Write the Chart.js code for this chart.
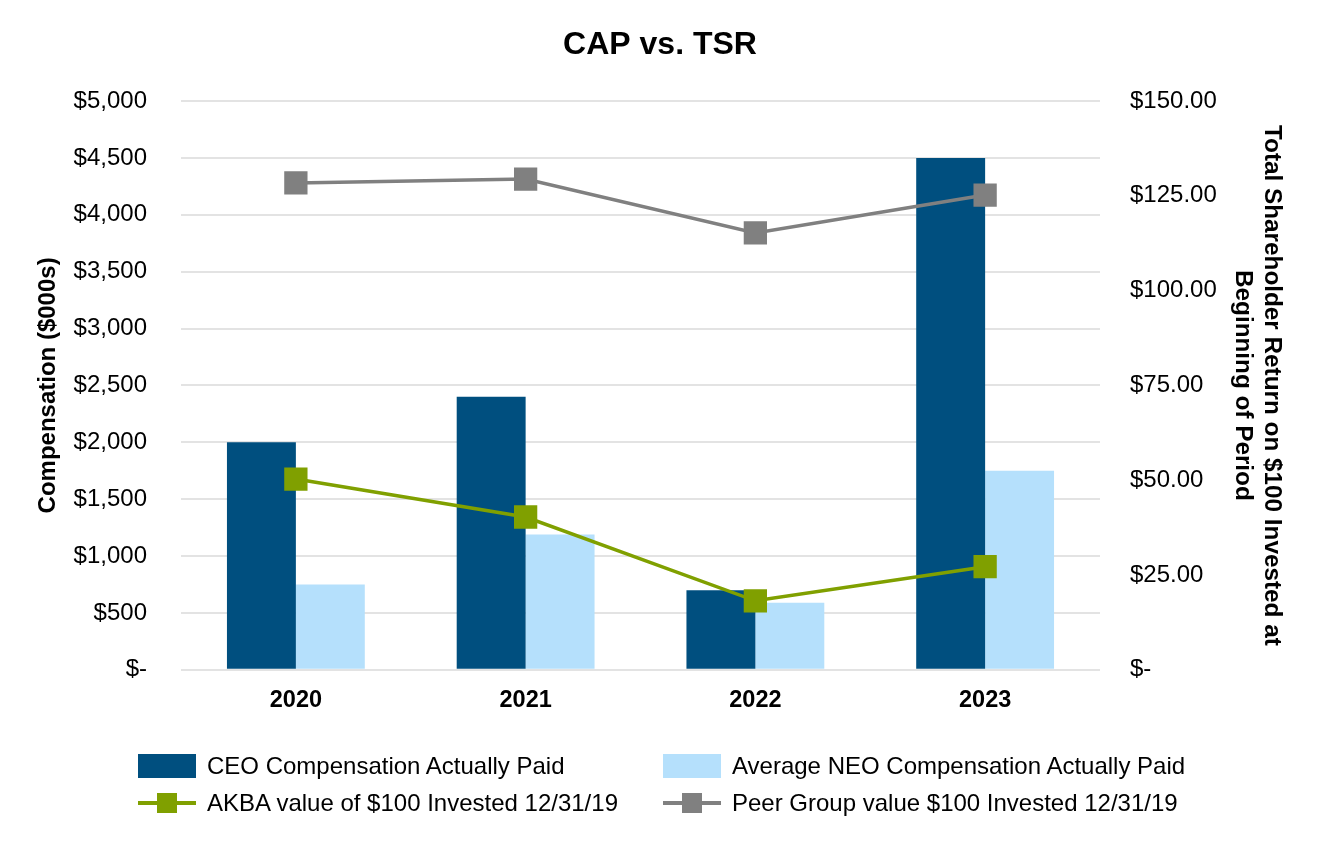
<!DOCTYPE html>
<html>
<head>
<meta charset="utf-8">
<script src="https://cdn.jsdelivr.net/npm/chart.js@4/dist/chart.umd.min.js"></script>
<style>
  body { margin: 0; background: #fff; font-family: "Liberation Sans", Arial, sans-serif; }
  #wrap { position: relative; width: 1324px; height: 864px; }
  #legend { position: absolute; left: 0; top: 0; width: 1324px; height: 864px; pointer-events: none; }
  .item { position: absolute; font-size: 24px; color: #000; white-space: nowrap; line-height: 24px; }
  .sw { position: absolute; }
</style>
</head>
<body>
<div id="wrap">
  <canvas id="myChart" width="1324" height="864"></canvas>
  <div id="legend"></div>
</div>
<script>
const years = ['2020', '2021', '2022', '2023'];
const ceoCap = [2000, 2400, 700, 4500];
const neoCap = [750, 1190, 590, 1750];
const akbaTsr = [50.3, 40.3, 18.2, 27.2];
const peerTsr = [128.4, 129.4, 115.2, 125.2];

const colCeo = '#004f7f';
const colNeo = '#b5e0fc';
const colAkba = '#80a000';
const colPeer = '#808080';

const fam = '"Liberation Sans", Arial, sans-serif';
const font = { family: fam, size: 24 };
const bold = { family: fam, size: 23.5, weight: 'bold' };

function money(v) {
  if (v == 0) return '$-';
  return '$' + v.toLocaleString('en-US');
}
function money2(v) {
  if (v == 0) return '$-';
  return '$' + v.toFixed(2);
}

const ctx = document.getElementById('myChart').getContext('2d');
const myChart = new Chart(ctx, {
  type: 'bar',
  data: {
    labels: years,
    datasets: [
      {
        type: 'line',
        label: 'AKBA value of $100 Invested 12/31/19',
        data: akbaTsr,
        yAxisID: 'y1',
        borderColor: colAkba,
        backgroundColor: colAkba,
        borderWidth: 3.5,
        pointStyle: 'rect',
        pointRadius: 14,
        pointHoverRadius: 14,
        tension: 0,
        order: 0
      },
      {
        type: 'line',
        label: 'Peer Group value $100 Invested 12/31/19',
        data: peerTsr,
        yAxisID: 'y1',
        borderColor: colPeer,
        backgroundColor: colPeer,
        borderWidth: 3.5,
        pointStyle: 'rect',
        pointRadius: 14,
        pointHoverRadius: 14,
        tension: 0,
        order: 0
      },
      {
        label: 'CEO Compensation Actually Paid',
        data: ceoCap,
        yAxisID: 'y',
        backgroundColor: colCeo,
        categoryPercentage: 0.6,
        barPercentage: 1,
        order: 1
      },
      {
        label: 'Average NEO Compensation Actually Paid',
        data: neoCap,
        yAxisID: 'y',
        backgroundColor: colNeo,
        categoryPercentage: 0.6,
        barPercentage: 1,
        order: 1
      }
    ]
  },
  options: {
    responsive: false,
    animation: false,
    layout: { padding: { left: 30, right: 34, top: 0, bottom: 132 } },
    plugins: {
      legend: { display: false },
      tooltip: { enabled: false },
      title: {
        display: true,
        text: 'CAP vs. TSR',
        color: '#000',
        font: { family: fam, size: 32, weight: 'bold' },
        padding: { top: 26, bottom: 36.6 }
      }
    },
    scales: {
      x: {
        grid: { display: false, drawTicks: false },
        border: { display: false },
        ticks: { color: '#000', font: bold, padding: 17 }
      },
      y: {
        position: 'left',
        min: 0,
        max: 5000,
        afterFit: (s) => { s.width = 151; },
        grid: { color: '#e3e3e3', lineWidth: 2, drawTicks: false },
        border: { display: false },
        ticks: { stepSize: 500, color: '#000', font: font, padding: 34, callback: money },
        title: { display: true, text: 'Compensation ($000s)', color: '#000', font: { family: fam, size: 24, weight: 'bold' }, padding: 4 }
      },
      y1: {
        position: 'right',
        min: 0,
        max: 150,
        afterFit: (s) => { s.width = 190; },
        grid: { display: false, drawTicks: false },
        border: { display: false },
        ticks: { stepSize: 25, color: '#000', font: font, padding: 30, callback: money2 },
        title: {
          display: true,
          text: ['Total Shareholder Return on $100 Invested at', 'Beginning of Period'],
          color: '#000',
          font: { family: fam, size: 24.3, weight: 'bold', lineHeight: 1.2 },
          padding: 4
        }
      }
    }
  }
});

// legend, 2 x 2 grid like the original
const legendItems = [
  { text: 'CEO Compensation Actually Paid', color: colCeo, kind: 'box', x: 138, y: 766 },
  { text: 'Average NEO Compensation Actually Paid', color: colNeo, kind: 'box', x: 663, y: 766 },
  { text: 'AKBA value of $100 Invested 12/31/19', color: colAkba, kind: 'line', x: 138, y: 803 },
  { text: 'Peer Group value $100 Invested 12/31/19', color: colPeer, kind: 'line', x: 663, y: 803 }
];
const root = document.querySelector('#legend');
legendItems.forEach((it) => {
  if (it.kind == 'box') {
    const b = document.createElement('div');
    b.className = 'sw';
    b.style.cssText = `left:${it.x}px;top:${it.y - 12}px;width:58px;height:24px;background:${it.color}`;
    root.append(b);
  } else {
    const l = document.createElement('div');
    l.className = 'sw';
    l.style.cssText = `left:${it.x}px;top:${it.y - 2}px;width:58px;height:4px;background:${it.color}`;
    root.append(l);
    const m = document.createElement('div');
    m.className = 'sw';
    m.style.cssText = `left:${it.x + 19}px;top:${it.y - 10}px;width:20px;height:20px;background:${it.color}`;
    root.append(m);
  }
  const t = document.createElement('div');
  t.className = 'item';
  t.style.left = (it.x + 69) + 'px';
  t.style.top = (it.y - 12) + 'px';
  t.textContent = it.text;
  root.append(t);
});
</script>
</body>
</html>
